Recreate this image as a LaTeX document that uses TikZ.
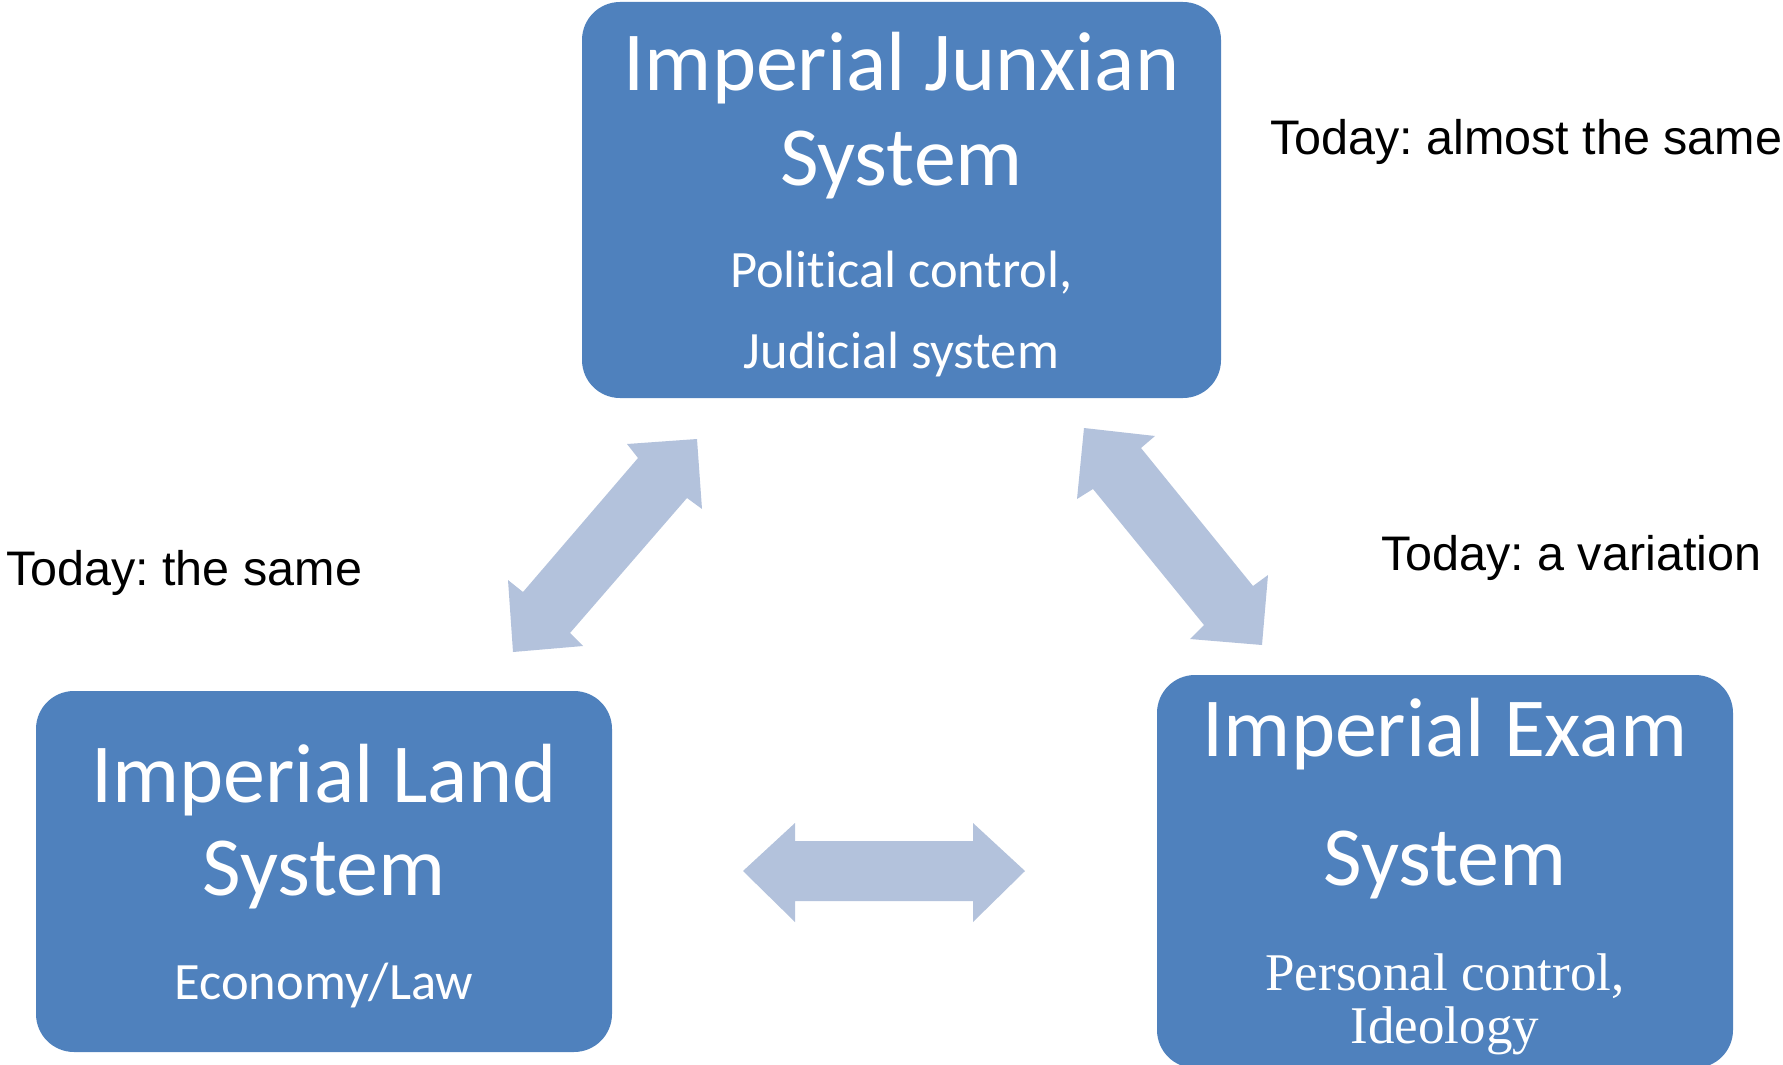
\documentclass[tikz,border=0pt]{standalone}
\usepackage{fontspec}
\newfontfamily\boxfont[Ligatures=NoCommon]{Carlito}
\newfontfamily\labfont{Liberation Sans}
\newfontfamily\serifbox{Liberation Serif}
\frenchspacing
\definecolor{boxblue}{RGB}{79,129,189}
\definecolor{arrowblue}{RGB}{179,194,220}
\tikzset{
  sysbox/.style={fill=boxblue, draw=none, rounded corners=38pt, inner sep=0pt},
  title/.style={anchor=base, inner sep=0pt, text=white, font=\boxfont\fontsize{84}{96}\selectfont},
  sub/.style={anchor=base, inner sep=0pt, text=white, font=\boxfont\fontsize{52.5}{60}\selectfont},
  subserif/.style={anchor=base, inner sep=0pt, text=white, font=\serifbox\fontsize{53}{60}\selectfont},
  today/.style={anchor=base west, inner sep=0pt, text=black, font=\labfont\fontsize{48.5}{56}\selectfont},
  blockarrow/.style={fill=arrowblue, draw=none}
}
\begin{document}
\begin{tikzpicture}[x=1pt,y=-1pt]
\useasboundingbox (0,0) rectangle (1783,1065);
% boxes
\node[sysbox, minimum width=639pt, minimum height=396pt] (junxian) at (901.5,200) {};
\node[sysbox, minimum width=576pt, minimum height=361pt] (land) at (324,871.5) {};
\node[sysbox, minimum width=576pt, minimum height=393pt] (exam) at (1445,871.5) {};
% box texts
\node[title] (jx1) at (901.5,90) {Imperial Junxian};
\node[title] (jx2) at (901.5,185) {System};
\node[sub] (jx3) at (901.5,287) {Political control,};
\node[sub] (jx4) at (901.5,368) {Judicial system};
\node[title] (ld1) at (324,802) {Imperial Land};
\node[title] (ld2) at (324,895) {System};
\node[sub] (ld3) at (324,999) {Economy/Law};
\node[title] (ex1) at (1445,756) {Imperial Exam};
\node[title] (ex2) at (1445,885) {System};
\node[subserif] (ex3) at (1445,990) {Personal control,};
\node[subserif] (ex4) at (1445,1043) {Ideology};
% block arrows
\fill[blockarrow] (697,439) -- (627,444) -- (638,458) -- (523,592) -- (508,580) -- (513,652)
  -- (583,646) -- (570,633) -- (687,498) -- (702,509) -- cycle;
\fill[blockarrow] (1084,428) -- (1155,436) -- (1141,448) -- (1253,586) -- (1268,575) -- (1262,645)
  -- (1190,639) -- (1204,625) -- (1093,489) -- (1077,499) -- cycle;
\fill[blockarrow] (743,871) -- (795,823) -- (795,841) -- (973,841) -- (973,823) -- (1025,871)
  -- (973,922) -- (973,901) -- (795,901) -- (795,922) -- cycle;
% labels
\node[today] (t1) at (1270,154) {Today: almost the same};
\node[today] (t2) at (6,585) {Today: the same};
\node[today] (t3) at (1381,570) {Today: a variation};
\end{tikzpicture}
\end{document}
